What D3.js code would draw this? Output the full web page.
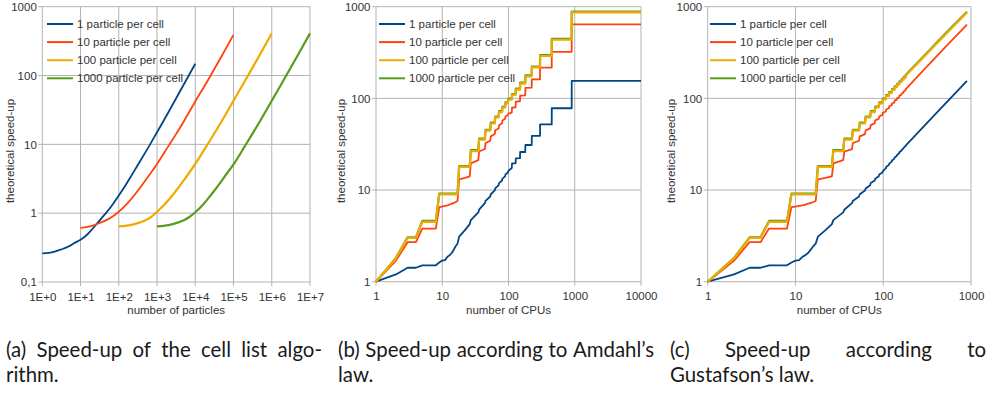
<!DOCTYPE html>
<html>
<head>
<meta charset="utf-8">
<script src="https://cdn.jsdelivr.net/npm/d3@7"></script>
<style>
  body { margin: 0; background: #fff; }
  svg text { font-family: "Liberation Sans", Arial, sans-serif; }
</style>
</head>
<body>
<svg id="fig" width="990" height="393"></svg>
<script>
// Series labels / colours
const seriesNames = ["1 particle per cell", "10 particle per cell", "100 particle per cell", "1000 particle per cell"];
const seriesColors = ["#004586", "#ff420e", "#f0ab00", "#579d1c"];

// (a) cell list: number of particles vs speed-up
const cellN1 = [1, 2, 3, 5, 7, 10, 15, 20, 26, 35, 46, 70, 100, 150, 200, 300, 500, 700, 1000, 2000, 5000, 10000];
const cellS1 = [0.26, 0.275, 0.295, 0.33, 0.37, 0.41, 0.49, 0.58, 0.69, 0.84, 1.0, 1.35, 1.8, 2.55, 3.3, 4.8, 7.7, 10.6, 15, 29.5, 74, 148];
const cellN10 = [10, 15, 20, 26, 40, 60, 100, 150, 200, 300, 500, 700, 1000, 2000, 3000, 5000, 10000, 20000, 50000, 100000];
const cellS10 = [0.61, 0.63, 0.655, 0.69, 0.76, 0.85, 1.05, 1.3, 1.55, 2.05, 3.0, 3.9, 5.2, 9.5, 13.5, 21.5, 42, 80, 195, 390];
const cellN100 = [100, 150, 200, 300, 500, 700, 1000, 1500, 2000, 3000, 5000, 7000, 10000, 20000, 30000, 50000, 100000, 200000, 500000, 1000000];
const cellS100 = [0.645, 0.655, 0.67, 0.71, 0.79, 0.88, 1.05, 1.3, 1.55, 2.05, 3.0, 3.9, 5.2, 9.6, 13.8, 22, 43, 84, 205, 410];
const cellN1000 = [1000, 1500, 2000, 3000, 5000, 7000, 10000, 15000, 20000, 30000, 50000, 70000, 100000, 200000, 300000, 500000, 1000000, 2000000, 5000000, 10000000];
const cellS1000 = [0.645, 0.655, 0.67, 0.71, 0.79, 0.88, 1.03, 1.28, 1.55, 2.05, 3.0, 3.9, 5.1, 9.5, 13.7, 22, 43, 84, 205, 410];

// (b) Amdahl: number of CPUs vs speed-up
const amdahlCpus = [1, 2, 3, 4, 5, 8, 9, 10, 11, 12, 13, 14, 15, 16, 17, 18, 22, 26, 27, 35, 36, 44, 45, 53, 54, 62, 63, 71, 72, 80, 81, 89, 90, 98,
  99, 112, 113, 128, 129, 149, 150, 179, 180, 224, 225, 299, 300, 449, 450, 899, 900, 10000];
const amdahl1 = [1, 1.2, 1.42, 1.42, 1.51, 1.51, 1.62, 1.7, 1.72, 1.87, 1.95, 2.07, 2.25, 2.45, 2.6, 3.1, 3.65, 4.25, 4.7, 5.7, 6.1, 7.2, 7.6, 8.5, 9.0, 9.9, 10.4, 11.3, 11.9, 12.7, 13.3, 14.1, 14.8, 15.5,
  16.1, 17.4, 19.5, 19.6, 22.2, 22.3, 26, 26, 31, 31, 39, 39, 52, 52, 78, 78, 155, 155];
const amdahl10 = [1, 1.7, 2.7, 2.7, 3.8, 3.8, 6.5, 6.6, 6.7, 6.8, 6.95, 7.1, 7.25, 7.4, 7.6, 13.1, 13.6, 14.1, 19.5, 21.2, 26.3, 28, 32.5, 34.5, 38.5, 40.8, 44.8, 47, 51, 53.5, 57.5, 60, 63.5, 66,
  68, 70, 79, 80, 92, 93, 107, 108, 130, 131, 161, 161, 216, 216, 322, 322, 641, 641];
const amdahl100 = [1, 1.8, 3, 3, 4.5, 4.5, 8.95, 8.95, 8.95, 8.95, 8.95, 8.95, 8.95, 8.95, 8.95, 17.9, 17.9, 17.9, 26.6, 26.6, 35.5, 35.5, 44.4, 44.4, 53.2, 53.2, 62, 62, 70.8, 70.8, 79.6, 79.6, 88.4, 88.4,
  97, 97, 109, 109, 124.5, 124.5, 145, 145, 174, 174, 218, 218, 290, 290, 436, 436, 865, 865];
const amdahl1000 = [1, 1.82, 3.05, 3.05, 4.6, 4.6, 9.15, 9.15, 9.15, 9.15, 9.15, 9.15, 9.15, 9.15, 9.15, 18.3, 18.3, 18.3, 27.2, 27.2, 36.3, 36.3, 45.4, 45.4, 54.4, 54.4, 63.4, 63.4, 72.4, 72.4, 81.4, 81.4, 90.4, 90.4,
  99.5, 99.5, 111.5, 111.5, 127.5, 127.5, 148.5, 148.5, 178, 178, 222, 222, 296, 296, 445, 445, 882, 882];

// (c) Gustafson: number of CPUs vs speed-up
const gustafsonCpus = [1, 2, 3, 4, 5, 8, 9, 10, 11, 12, 13, 14, 15, 16, 17, 18, 22, 26, 27, 35, 36, 44, 45, 53, 54, 62, 63, 71, 72, 80, 81, 89, 90, 98,
  99, 107, 108, 116, 117, 125, 126, 134, 135, 143, 144, 152, 153, 161, 162, 170, 171, 179, 180, 250, 400, 600, 900];
const gustafson1 = [1, 1.2, 1.42, 1.42, 1.51, 1.51, 1.62, 1.7, 1.72, 1.87, 1.95, 2.07, 2.25, 2.45, 2.6, 3.1, 3.65, 4.25, 4.7, 5.7, 6.1, 7.2, 7.6, 8.5, 9.0, 9.9, 10.4, 11.3, 11.9, 12.7, 13.3, 14.1, 14.8, 15.5,
  16.1, 17.2, 17.8, 18.8, 19.4, 20.4, 21, 22, 22.6, 23.6, 24.2, 25.2, 25.8, 26.8, 27.4, 28.4, 29, 30, 30.6, 42.5, 68.5, 103, 155];
const gustafson10 = [1, 1.7, 2.7, 2.7, 3.8, 3.8, 6.5, 6.6, 6.7, 6.8, 6.95, 7.1, 7.25, 7.4, 7.6, 13.1, 13.6, 14.1, 19.5, 21.2, 26.3, 28, 32.5, 34.5, 38.5, 40.8, 44.8, 47, 51, 53.5, 57.5, 60, 63.5, 66,
  69.5, 72, 75.5, 78, 82, 84.5, 88, 90.5, 94.5, 97, 100.5, 103, 107, 109.5, 113, 115.5, 119.5, 122, 125.5, 176, 284, 426, 638];
const gustafson100 = [1, 1.8, 3, 3, 4.5, 4.5, 8.95, 8.95, 8.95, 8.95, 8.95, 8.95, 8.95, 8.95, 8.95, 17.9, 17.9, 17.9, 26.6, 26.6, 35.5, 35.5, 44.4, 44.4, 53.2, 53.2, 62, 62, 70.8, 70.8, 79.6, 79.6, 88.4, 88.4,
  97.2, 97.2, 106, 106, 114.8, 114.8, 123.6, 123.6, 132.4, 132.4, 141.2, 141.2, 150, 150, 158.8, 158.8, 167.5, 167.5, 176.2, 245, 390, 582, 865];
const gustafson1000 = [1, 1.82, 3.05, 3.05, 4.6, 4.6, 9.15, 9.15, 9.15, 9.15, 9.15, 9.15, 9.15, 9.15, 9.15, 18.3, 18.3, 18.3, 27.2, 27.2, 36.3, 36.3, 45.4, 45.4, 54.4, 54.4, 63.4, 63.4, 72.4, 72.4, 81.4, 81.4, 90.4, 90.4,
  99.4, 99.4, 108.4, 108.4, 117.4, 117.4, 126.4, 126.4, 135.4, 135.4, 144.4, 144.4, 153.4, 153.4, 162.4, 162.4, 171.3, 171.3, 180.3, 250, 400, 596, 882];

// Tick labels
const particleTicks = [1, 10, 100, 1000, 10000, 100000, 1000000, 10000000];
const particleTickLabels = ["1E+0", "1E+1", "1E+2", "1E+3", "1E+4", "1E+5", "1E+6", "1E+7"];
const speedTicksA = [0.1, 1, 10, 100, 1000];
const speedTickLabelsA = ["0,1", "1", "10", "100", "1000"];
const cpuTicksB = [1, 10, 100, 1000, 10000];
const cpuTicksC = [1, 10, 100, 1000];
const speedTicksBC = [1, 10, 100, 1000];

// Captions
const captions = [
  ["(a) Speed-up of the cell list algo-", "rithm."],
  ["(b) Speed-up according to Amdahl\u2019s", "law."],
  ["(c) Speed-up according to", "Gustafson\u2019s law."]
];

const svg = d3.select("#fig");
const gridColor = "#b3b3b3";
const textColor = "#333";
const fontSize = 11.5;

function zip(xs, ys) { return xs.map((x, i) => [x, ys[i]]); }

function drawPanel(p) {
  const x = d3.scaleLog().domain(p.xDomain).range([p.left, p.right]);
  const y = d3.scaleLog().domain(p.yDomain).range([p.bottom, p.top]);
  const g = svg.append("g");

  // grid (with short outer ticks)
  g.selectAll(".vgrid").data(p.xTicks).enter().append("line")
    .attr("x1", d => x(d)).attr("x2", d => x(d))
    .attr("y1", p.top).attr("y2", p.bottom + 4)
    .attr("stroke", gridColor).attr("stroke-width", 1);
  g.selectAll(".hgrid").data(p.yTicks).enter().append("line")
    .attr("x1", p.left - 4).attr("x2", p.right)
    .attr("y1", d => y(d)).attr("y2", d => y(d))
    .attr("stroke", gridColor).attr("stroke-width", 1);

  // axes (labels only)
  const xAxis = g.append("g").attr("transform", `translate(0, ${p.bottom})`)
    .call(d3.axisBottom(x).tickValues(p.xTicks).tickFormat((d, i) => p.xLabels[i]).tickSize(0).tickPadding(10.5));
  const yAxis = g.append("g").attr("transform", `translate(${p.left}, 0)`)
    .call(d3.axisLeft(y).tickValues(p.yTicks).tickFormat((d, i) => p.yLabels[i]).tickSize(0).tickPadding(5.5));
  [xAxis, yAxis].forEach(a => {
    a.select(".domain").remove();
    a.selectAll("text").attr("font-size", fontSize).attr("fill", textColor)
      .attr("font-family", "Liberation Sans, Arial, sans-serif");
  });

  // axis titles
  g.append("text").attr("x", (p.left + p.right) / 2).attr("y", 313.5)
    .attr("text-anchor", "middle").attr("font-size", fontSize).attr("fill", textColor).text(p.xTitle);
  g.append("text").attr("transform", `translate(${p.yTitleX}, 151) rotate(-90)`)
    .attr("text-anchor", "middle").attr("font-size", fontSize).attr("fill", textColor).text("theoretical speed-up");

  // lines: blue, red, green, then yellow on top
  const line = d3.line().x(d => x(d[0])).y(d => y(d[1])).curve(p.curve);
  [0, 1, 3, 2].forEach(i => {
    g.append("path").datum(p.series[i])
      .attr("d", line).attr("fill", "none")
      .attr("stroke", seriesColors[i]).attr("stroke-width", i >= 2 ? 2.2 : 1.8)
      .attr("stroke-linejoin", "round");
  });

  // legend
  seriesNames.forEach((name, i) => {
    const ly = 24 + i * 18.1;
    g.append("line").attr("x1", p.legendX).attr("x2", p.legendX + 26)
      .attr("y1", ly).attr("y2", ly)
      .attr("stroke", seriesColors[i]).attr("stroke-width", 2);
    g.append("text").attr("x", p.legendX + 30).attr("y", ly).attr("dy", "0.35em")
      .attr("font-size", fontSize).attr("fill", textColor).text(name);
  });
}

drawPanel({
  left: 42.3, right: 310, top: 6.7, bottom: 282,
  xDomain: [1, 1e7], yDomain: [0.1, 1000],
  xTicks: particleTicks, xLabels: particleTickLabels,
  yTicks: speedTicksA, yLabels: speedTickLabelsA,
  xTitle: "number of particles", yTitleX: 14, legendX: 47,
  curve: d3.curveMonotoneX,
  series: [zip(cellN1, cellS1), zip(cellN10, cellS10), zip(cellN100, cellS100), zip(cellN1000, cellS1000)]
});

drawPanel({
  left: 376, right: 641, top: 6.7, bottom: 281.7,
  xDomain: [1, 10000], yDomain: [1, 1000],
  xTicks: cpuTicksB, xLabels: cpuTicksB.map(String),
  yTicks: speedTicksBC, yLabels: speedTicksBC.map(String),
  xTitle: "number of CPUs", yTitleX: 344.5, legendX: 379,
  curve: d3.curveLinear,
  series: [zip(amdahlCpus, amdahl1), zip(amdahlCpus, amdahl10), zip(amdahlCpus, amdahl100), zip(amdahlCpus, amdahl1000)]
});

drawPanel({
  left: 707.7, right: 971, top: 6.7, bottom: 281.7,
  xDomain: [1, 1000], yDomain: [1, 1000],
  xTicks: cpuTicksC, xLabels: cpuTicksC.map(String),
  yTicks: speedTicksBC, yLabels: speedTicksBC.map(String),
  xTitle: "number of CPUs", yTitleX: 675, legendX: 710,
  curve: d3.curveLinear,
  series: [zip(gustafsonCpus, gustafson1), zip(gustafsonCpus, gustafson10), zip(gustafsonCpus, gustafson100), zip(gustafsonCpus, gustafson1000)]
});

// captions: first line justified, second line left aligned
const capX = [6, 338, 670];
const capW = 316;
const capFont = "Lato, 'Open Sans', sans-serif";

// pick a font size so the tight line (b) sets with plain spaces
const probe = svg.append("text").style("font-family", capFont).attr("font-size", 20).text(captions[1][0]);
const capSize = 20 * (capW - 2) / probe.node().getComputedTextLength();
probe.remove();

captions.forEach((lines, c) => {
  const g = svg.append("g").attr("font-size", capSize).attr("fill", "#1a1a1a");
  const words = lines[0].split(" ");
  const nodes = words.map(w => g.append("text").attr("y", 357).style("font-family", capFont).text(w));
  const widths = nodes.map(n => n.node().getComputedTextLength());
  const gap = (capW - d3.sum(widths)) / (words.length - 1);
  let cx = capX[c];
  nodes.forEach((n, i) => { n.attr("x", cx); cx += widths[i] + gap; });
  g.append("text").attr("x", capX[c]).attr("y", 382).style("font-family", capFont).text(lines[1]);
});
</script>
</body>
</html>
